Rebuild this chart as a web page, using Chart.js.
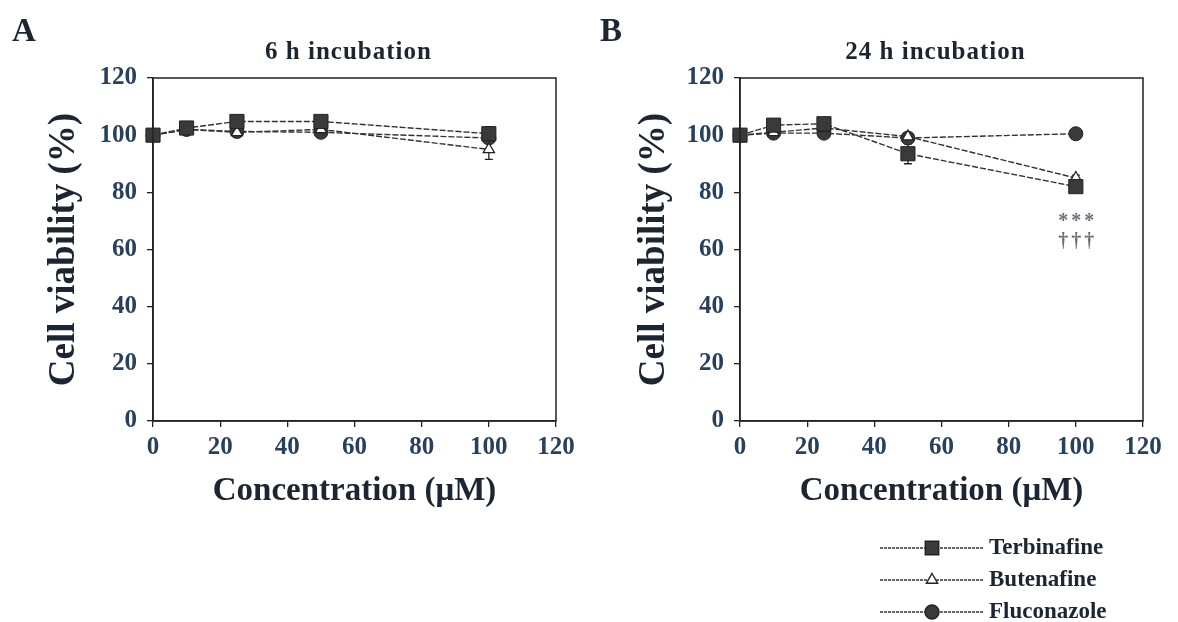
<!DOCTYPE html>
<html>
<head>
<meta charset="utf-8">
<script src="https://cdn.jsdelivr.net/npm/chart.js@4.4.0/dist/chart.umd.min.js"></script>
<style>
  html,body{margin:0;padding:0;background:#fff;}
  #wrap{position:relative;width:1178px;height:622px;overflow:hidden;background:#fff;}
  canvas{position:absolute;top:0;}
</style>
</head>
<body>
<div id="wrap">
  <canvas id="cA" width="590" height="622" style="left:0"></canvas>
  <canvas id="cB" width="588" height="622" style="left:590px"></canvas>
</div>
<script>
// ---- data ----
const concentrations = [0, 10, 25, 50, 100];
const seriesNames = ['Terbinafine', 'Butenafine', 'Fluconazole'];
const panelLetters = ['A', 'B'];
const panelTitles = ['6 h incubation', '24 h incubation'];
const axisTicks = [0, 20, 40, 60, 80, 100, 120];
const xAxisTitle = 'Concentration (\u03bcM)';
const yAxisTitle = 'Cell viability (%)';

const terbinafine6h = [100, 102.5, 104.8, 104.8, 100.5];
const terbinafine6hErr = [1, 1, 1, 1, 2.5];
const butenafine6h = [100, 102, 101, 102, 95];
const butenafine6hErr = [1, 1, 1, 1, 3.5];
const fluconazole6h = [100, 102, 101.3, 101, 99];
const fluconazole6hErr = [0.8, 0.8, 0.8, 0.8, 1];

const terbinafine24h = [100, 103.5, 104, 93.5, 82];
const terbinafine24hErr = [1, 1, 1, 3.5, 1.5];
const butenafine24h = [100, 101, 102.5, 99.5, 85];
const butenafine24hErr = [1, 1, 1, 1, 1];
const fluconazole24h = [100, 100.7, 100.7, 99, 100.5];
const fluconazole24hErr = [0.8, 0.8, 0.8, 0.8, 0.8];

const sigLabels24h = ['***', '\u2020\u2020\u2020'];

// ---- styling ----
const SERIF = '"Liberation Serif","Times New Roman",serif';
const TXT = '#1c2633';
const TICKTXT = '#26405e';
const LINE = '#333';

function toPts(vals) { return concentrations.map((c, i) => ({x: c, y: vals[i]})); }

function makeDatasets(t, te, b, be, f, fe) {
  return [
    {label: seriesNames[0], data: toPts(t), err: te, borderColor: LINE, backgroundColor: '#333', clip: false,
     borderWidth: 1.4, borderDash: [6, 2], pointStyle: 'rect', pointRadius: 10, pointBorderColor: '#222',
     pointBackgroundColor: '#3a3a3a', pointBorderWidth: 1, order: 1},
    {label: seriesNames[1], data: toPts(b), err: be, borderColor: LINE, backgroundColor: '#fff', clip: false,
     borderWidth: 1.4, borderDash: [6, 2], pointStyle: 'triangle', pointRadius: 6.5, pointBorderColor: '#222',
     pointBackgroundColor: '#fff', pointBorderWidth: 1.3, order: 2},
    {label: seriesNames[2], data: toPts(f), err: fe, borderColor: LINE, backgroundColor: '#333', clip: false,
     borderWidth: 1.4, borderDash: [6, 2], pointStyle: 'circle', pointRadius: 7, pointBorderColor: '#222',
     pointBackgroundColor: '#3a3a3a', pointBorderWidth: 1, order: 3}
  ];
}

const errorBars = {
  id: 'errorBars',
  beforeDatasetsDraw(chart) {
    const ctx = chart.ctx, ys = chart.scales.y, xs = chart.scales.x;
    ctx.save();
    ctx.strokeStyle = '#222';
    ctx.lineWidth = 1.3;
    chart.data.datasets.forEach(ds => {
      ds.data.forEach((p, i) => {
        const e = ds.err[i];
        if (!e) return;
        const x = xs.getPixelForValue(p.x);
        const y1 = ys.getPixelForValue(p.y - e), y2 = ys.getPixelForValue(p.y + e);
        ctx.beginPath();
        ctx.moveTo(x, y1); ctx.lineTo(x, y2);
        ctx.moveTo(x - 4, y1); ctx.lineTo(x + 4, y1);
        ctx.moveTo(x - 4, y2); ctx.lineTo(x + 4, y2);
        ctx.stroke();
      });
    });
    ctx.restore();
  }
};

const frame = {
  id: 'frame',
  afterDraw(chart, args, opts) {
    const ctx = chart.ctx, a = chart.chartArea;
    ctx.save();
    ctx.strokeStyle = '#222';
    ctx.lineWidth = 1.5;
    ctx.strokeRect(a.left, a.top, a.right - a.left, a.bottom - a.top);
    // panel title
    ctx.fillStyle = TXT;
    ctx.font = 'bold 25px ' + SERIF;
    ctx.textAlign = 'center';
    ctx.textBaseline = 'alphabetic';
    ctx.letterSpacing = '1px';
    ctx.fillText(opts.title, (a.left + a.right) / 2 - 6, 59);
    ctx.letterSpacing = '0px';
    // panel letter
    ctx.font = 'bold 33px ' + SERIF;
    ctx.textAlign = 'left';
    ctx.fillText(opts.letter, opts.letterX, 41);
    // significance labels
    if (opts.sig) {
      const xs = chart.scales.x, ys = chart.scales.y;
      const ds = chart.data.datasets[0];
      const last = ds.data[ds.data.length - 1];
      const x = xs.getPixelForValue(last.x);
      const y = ys.getPixelForValue(last.y);
      ctx.fillStyle = '#66707c';
      ctx.font = 'bold 20px ' + SERIF;
      ctx.textAlign = 'center';
      ctx.letterSpacing = '3px';
      ctx.fillText(opts.sig[0], x + 2, y + 40);
      ctx.fillText(opts.sig[1], x + 2, y + 60);
    }
    ctx.restore();
  }
};

const customLegend = {
  id: 'customLegend',
  afterDraw(chart, args, opts) {
    if (!opts.show) return;
    const ctx = chart.ctx;
    ctx.save();
    chart.data.datasets.forEach((ds, i) => {
      const y = opts.y0 + i * opts.dy;
      ctx.strokeStyle = ds.borderColor;
      ctx.lineWidth = 1.4;
      ctx.setLineDash([3, 1]);
      ctx.beginPath();
      ctx.moveTo(opts.x0, y); ctx.lineTo(opts.x1, y);
      ctx.stroke();
      ctx.setLineDash([]);
      ctx.fillStyle = ds.pointBackgroundColor;
      ctx.strokeStyle = ds.pointBorderColor;
      const r = ds.pointStyle === 'rect' ? 9.5 : (ds.pointStyle === 'triangle' ? 6.5 : 7);
      Chart.helpers.drawPoint(ctx, {pointStyle: ds.pointStyle, radius: r,
        rotation: 0, borderWidth: ds.pointBorderWidth}, opts.xm, y);
      ctx.fillStyle = TXT;
      ctx.font = 'bold 23px ' + SERIF;
      ctx.textAlign = 'left';
      ctx.textBaseline = 'middle';
      ctx.fillText(ds.label, opts.x1 + 6, y);
    });
    ctx.restore();
  }
};

function makeChart(id, datasets, cfg) {
  return new Chart(document.getElementById(id), {
    type: 'line',
    data: {datasets},
    plugins: [errorBars, frame, customLegend],
    options: {
      responsive: false,
      animation: false,
      layout: {padding: {left: 0, right: cfg.padRight, top: 78, bottom: 111}},
      plugins: {
        legend: {display: false},
        tooltip: {enabled: false},
        frame: {title: cfg.title, letter: cfg.letter, letterX: cfg.letterX, sig: cfg.sig},
        customLegend: cfg.legend
      },
      scales: {
        x: {
          type: 'linear', min: 0, max: 120,
          afterBuildTicks: s => { s.ticks = axisTicks.map(v => ({value: v})); },
          afterFit: s => { s.height = 90; },
          border: {color: '#222', width: 1.5},
          grid: {drawOnChartArea: false, color: '#222', tickLength: 6, lineWidth: 1.3},
          ticks: {color: TICKTXT, padding: 6, font: {family: SERIF, size: 25, weight: 'bold'}, maxRotation: 0},
          title: {display: true, text: xAxisTitle, color: TXT, padding: {top: 0, bottom: 0},
                  font: {family: SERIF, size: 33, weight: 'bold'}}
        },
        y: {
          type: 'linear', min: 0, max: 120,
          afterBuildTicks: s => { s.ticks = axisTicks.map(v => ({value: v})); },
          afterFit: s => { s.width = cfg.yWidth; },
          border: {color: '#222', width: 1.5},
          grid: {drawOnChartArea: false, color: '#222', tickLength: 6, lineWidth: 1.3},
          ticks: {color: TICKTXT, padding: 10, font: {family: SERIF, size: 25, weight: 'bold'}},
          title: {display: true, text: yAxisTitle, color: TXT, padding: {top: 42, bottom: 0},
                  font: {family: SERIF, size: 37, weight: 'bold'}}
        }
      }
    }
  });
}

makeChart('cA', makeDatasets(terbinafine6h, terbinafine6hErr, butenafine6h, butenafine6hErr, fluconazole6h, fluconazole6hErr),
  {title: panelTitles[0], letter: panelLetters[0], letterX: 12, padRight: 34, yWidth: 153, sig: null,
   legend: {show: false}});
makeChart('cB', makeDatasets(terbinafine24h, terbinafine24hErr, butenafine24h, butenafine24hErr, fluconazole24h, fluconazole24hErr),
  {title: panelTitles[1], letter: panelLetters[1], letterX: 10, padRight: 35, yWidth: 150, sig: sigLabels24h,
   legend: {show: true, x0: 290, x1: 393, xm: 342, y0: 548, dy: 32}});
</script>
</body>
</html>
